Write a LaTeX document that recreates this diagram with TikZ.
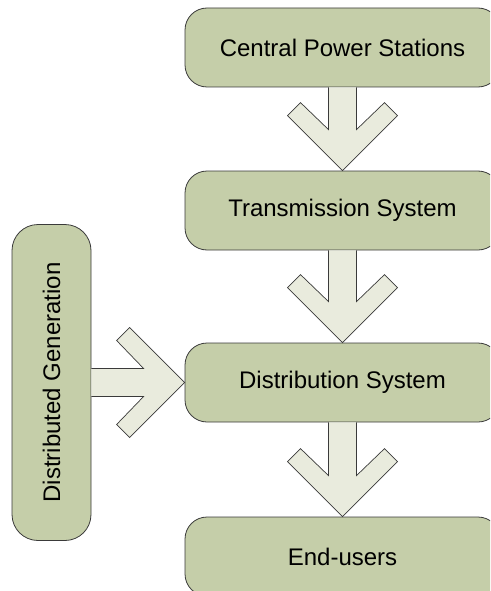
\documentclass[tikz,border=0pt]{standalone}
\usepackage{fontspec}
\setmainfont{Liberation Sans}
\usepackage{tikz}
\usetikzlibrary{calc}
\definecolor{boxolive}{HTML}{C5CEA9}
\definecolor{arrowpale}{HTML}{E9EBDD}
\definecolor{edgedark}{HTML}{3A3A3A}
\tikzset{every node/.append style={font=\fontsize{24}{28}\selectfont}}

% block arrows, drawn from node to node
\newcommand\flowdown[2]{%
  \draw[flowarrow] ($(#1.south)+(-14,0)$) -- ($(#2.north)+(-14,-41)$)
    -- ($(#2.north)+(-42,-68)$) -- ($(#2.north)+(-55,-55)$) -- (#2.north)
    -- ($(#2.north)+(55,-55)$) -- ($(#2.north)+(42,-68)$)
    -- ($(#2.north)+(14,-41)$) -- ($(#1.south)+(14,0)$);}
\newcommand\flowright[2]{%
  \draw[flowarrow] ($(#1.east)+(0,-14)$) -- ($(#2.west)+(-41,-14)$)
    -- ($(#2.west)+(-68,-42)$) -- ($(#2.west)+(-55,-55)$) -- (#2.west)
    -- ($(#2.west)+(-55,55)$) -- ($(#2.west)+(-68,42)$)
    -- ($(#2.west)+(-41,14)$) -- ($(#1.east)+(0,14)$);}

\begin{document}
\begin{tikzpicture}[x=1pt,y=-1pt,
  stagebox/.style={draw=edgedark,fill=boxolive,rounded corners=22pt,
    minimum width=315pt,minimum height=79pt,inner sep=0pt,line width=0.8pt},
  sidebox/.style={stagebox,rounded corners=26pt,minimum width=79pt,minimum height=316pt},
  flowarrow/.style={draw=edgedark,fill=arrowpale,line width=0.7pt,line join=miter}]
  \useasboundingbox (0,0) rectangle (490,591);
  \clip (0,0) rectangle (490,591);
  % main chain
  \node[stagebox] (cps) at (342.5,47.5) {Central Power Stations};
  \node[stagebox] (trans) at (342.5,210.5) {Transmission System};
  \node[stagebox] (dist) at (342.5,382.5) {Distribution System};
  \node[stagebox] (users) at (342.5,556.5) {End-users};
  % side source
  \node[sidebox] (dg) at (51.5,382.5) {\rotatebox{90}{Distributed Generation}};
  \flowdown{cps}{trans}
  \flowdown{trans}{dist}
  \flowdown{dist}{users}
  \flowright{dg}{dist}
\end{tikzpicture}
\end{document}
